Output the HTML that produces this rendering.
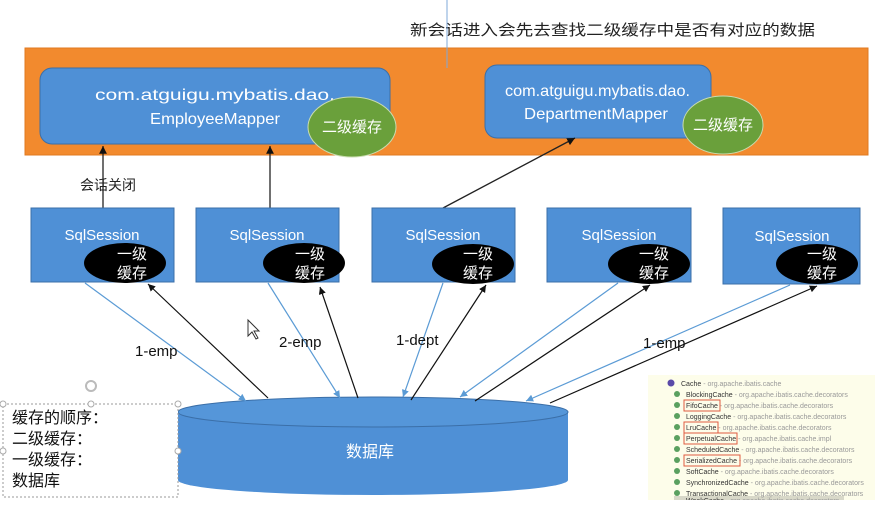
<!DOCTYPE html>
<html><head><meta charset="utf-8"><style>
body{margin:0;width:875px;height:500px;overflow:hidden;background:#fff;font-family:"Liberation Sans","Noto Sans CJK SC",sans-serif;}
</style></head><body>
<svg width="875" height="500" viewBox="0 0 875 500" xmlns="http://www.w3.org/2000/svg" font-family="Liberation Sans, Noto Sans CJK SC, sans-serif">
<defs>
<marker id="ab" markerWidth="8" markerHeight="8" refX="6" refY="3" orient="auto"><path d="M0,0 L6,3 L0,6 z" fill="#111"/></marker>
<marker id="au" markerWidth="8" markerHeight="8" refX="6" refY="3" orient="auto"><path d="M0,0 L6,3 L0,6 z" fill="#5b9bd5"/></marker>
</defs>
<text x="410" y="35" font-size="15" fill="#222" textLength="405" lengthAdjust="spacingAndGlyphs">新会话进入会先去查找二级缓存中是否有对应的数据</text>
<rect x="25" y="48" width="843" height="107" fill="#f28a2e" stroke="#e07a20"/>
<line x1="447" y1="0" x2="447" y2="68" stroke="#7fa8d8" stroke-width="1"/>
<rect x="40" y="68" width="350" height="76" rx="12" fill="#4f90d6" stroke="#3b6fa8"/>
<text x="95" y="100" font-size="16" fill="#fff" textLength="240" lengthAdjust="spacingAndGlyphs">com.atguigu.mybatis.dao.</text>
<text x="150" y="124" font-size="16" fill="#fff" textLength="130" lengthAdjust="spacingAndGlyphs">EmployeeMapper</text>
<ellipse cx="352" cy="127" rx="44" ry="30" fill="#6aa03b" stroke="#c9dcb0"/>
<text x="352" y="132" font-size="15" fill="#fff" text-anchor="middle">二级缓存</text>
<rect x="485" y="65" width="226" height="73" rx="12" fill="#4f90d6" stroke="#3b6fa8"/>
<text x="505" y="96" font-size="16" fill="#fff" textLength="185" lengthAdjust="spacingAndGlyphs">com.atguigu.mybatis.dao.</text>
<text x="524" y="119" font-size="16" fill="#fff" textLength="144" lengthAdjust="spacingAndGlyphs">DepartmentMapper</text>
<ellipse cx="723" cy="125" rx="40" ry="29" fill="#6aa03b" stroke="#c9dcb0"/>
<text x="723" y="130" font-size="15" fill="#fff" text-anchor="middle">二级缓存</text>
<text x="80" y="190" font-size="14" fill="#222">会话关闭</text>
<line x1="103" y1="208" x2="103" y2="146" stroke="#222" stroke-width="1.3" marker-end="url(#ab)"/>
<line x1="270" y1="208" x2="270" y2="146" stroke="#222" stroke-width="1.3" marker-end="url(#ab)"/>
<line x1="443" y1="208" x2="575" y2="138" stroke="#222" stroke-width="1.3" marker-end="url(#ab)"/>
<g font-size="15" fill="#fff">
<rect x="31" y="208" width="143" height="74" fill="#4f90d6" stroke="#3b6fa8"/>
<rect x="196" y="208" width="143" height="74" fill="#4f90d6" stroke="#3b6fa8"/>
<rect x="372" y="208" width="143" height="74" fill="#4f90d6" stroke="#3b6fa8"/>
<rect x="547" y="208" width="144" height="74" fill="#4f90d6" stroke="#3b6fa8"/>
<rect x="723" y="208" width="137" height="76" fill="#4f90d6" stroke="#3b6fa8"/>
<text x="102" y="240" text-anchor="middle">SqlSession</text>
<text x="267" y="240" text-anchor="middle">SqlSession</text>
<text x="443" y="240" text-anchor="middle">SqlSession</text>
<text x="619" y="240" text-anchor="middle">SqlSession</text>
<text x="792" y="241" text-anchor="middle">SqlSession</text>
</g>
<g fill="#000">
<ellipse cx="125" cy="263" rx="41" ry="20"/>
<ellipse cx="304" cy="263" rx="41" ry="20"/>
<ellipse cx="473" cy="264" rx="41" ry="20"/>
<ellipse cx="649" cy="264" rx="41" ry="20"/>
<ellipse cx="817" cy="264" rx="41" ry="20"/>
</g>
<g font-size="15" fill="#fff" text-anchor="middle">
<text x="132" y="259">一级</text><text x="132" y="278">缓存</text>
<text x="310" y="259">一级</text><text x="310" y="278">缓存</text>
<text x="478" y="259">一级</text><text x="478" y="278">缓存</text>
<text x="654" y="259">一级</text><text x="654" y="278">缓存</text>
<text x="822" y="259">一级</text><text x="822" y="278">缓存</text>
</g>
<path d="M178,412 L178,480 A195,15 0 0 0 568,480 L568,412 Z" fill="#4f90d6"/>
<ellipse cx="373" cy="412" rx="195" ry="15" fill="#5596d9" stroke="#3b6fa8"/>
<text x="370" y="457" font-size="16" fill="#fff" text-anchor="middle">数据库</text>
<g stroke-width="1.2">
<line x1="85" y1="283" x2="246" y2="401" stroke="#5b9bd5" marker-end="url(#au)"/>
<line x1="268" y1="398" x2="148" y2="284" stroke="#111" marker-end="url(#ab)"/>
<line x1="268" y1="283" x2="340" y2="398" stroke="#5b9bd5" marker-end="url(#au)"/>
<line x1="358" y1="398" x2="320" y2="287" stroke="#111" marker-end="url(#ab)"/>
<line x1="443" y1="283" x2="403" y2="397" stroke="#5b9bd5" marker-end="url(#au)"/>
<line x1="411" y1="400" x2="486" y2="285" stroke="#111" marker-end="url(#ab)"/>
<line x1="618" y1="283" x2="460" y2="397" stroke="#5b9bd5" marker-end="url(#au)"/>
<line x1="475" y1="401" x2="650" y2="285" stroke="#111" marker-end="url(#ab)"/>
<line x1="790" y1="285" x2="526" y2="401" stroke="#5b9bd5" marker-end="url(#au)"/>
<line x1="550" y1="403" x2="817" y2="286" stroke="#111" marker-end="url(#ab)"/>
</g>
<g font-size="15" fill="#111">
<text x="135" y="356">1-emp</text>
<text x="279" y="347">2-emp</text>
<text x="396" y="345">1-dept</text>
<text x="643" y="348">1-emp</text>
</g>
<path d="M248,320 L248,336 L252,332 L256,339 L258,338 L254,331 L259,331 Z" fill="#fff" stroke="#333"/>
<rect x="3" y="404" width="175" height="93" fill="#fff" stroke="#999" stroke-dasharray="2,2"/>
<g fill="#fff" stroke="#aaa"><circle cx="3" cy="404" r="3"/><circle cx="91" cy="404" r="3"/><circle cx="178" cy="404" r="3"/><circle cx="3" cy="451" r="3"/><circle cx="178" cy="451" r="3"/></g>
<circle cx="91" cy="386" r="5" fill="none" stroke="#bbb" stroke-width="2"/>
<g font-size="16" fill="#111">
<text x="12" y="423">缓存的顺序：</text>
<text x="12" y="444">二级缓存：</text>
<text x="12" y="465">一级缓存：</text>
<text x="12" y="486">数据库</text>
</g>
<rect x="648" y="375" width="227" height="125" fill="#fdfdea"/>
<rect x="674" y="496" width="170" height="4" fill="#d8d8c8"/>
<g font-size="7" fill="#555">
<circle cx="671" cy="383" r="3.5" fill="#5a4aa8"/><text x="681" y="386" fill="#333">Cache <tspan fill="#999">- org.apache.ibatis.cache</tspan></text>
<g fill="#5aa060"><circle cx="677" cy="394" r="3"/><circle cx="677" cy="405" r="3"/><circle cx="677" cy="416" r="3"/><circle cx="677" cy="427" r="3"/><circle cx="677" cy="438" r="3"/><circle cx="677" cy="449" r="3"/><circle cx="677" cy="460" r="3"/><circle cx="677" cy="471" r="3"/><circle cx="677" cy="482" r="3"/><circle cx="677" cy="493" r="3"/></g>
<text x="686" y="397" fill="#333">BlockingCache <tspan fill="#999">- org.apache.ibatis.cache.decorators</tspan></text>
<text x="686" y="408" fill="#333">FifoCache <tspan fill="#999">- org.apache.ibatis.cache.decorators</tspan></text>
<text x="686" y="419" fill="#333">LoggingCache <tspan fill="#999">- org.apache.ibatis.cache.decorators</tspan></text>
<text x="686" y="430" fill="#333">LruCache <tspan fill="#999">- org.apache.ibatis.cache.decorators</tspan></text>
<text x="686" y="441" fill="#333">PerpetualCache <tspan fill="#999">- org.apache.ibatis.cache.impl</tspan></text>
<text x="686" y="452" fill="#333">ScheduledCache <tspan fill="#999">- org.apache.ibatis.cache.decorators</tspan></text>
<text x="686" y="463" fill="#333">SerializedCache <tspan fill="#999">- org.apache.ibatis.cache.decorators</tspan></text>
<text x="686" y="474" fill="#333">SoftCache <tspan fill="#999">- org.apache.ibatis.cache.decorators</tspan></text>
<text x="686" y="485" fill="#333">SynchronizedCache <tspan fill="#999">- org.apache.ibatis.cache.decorators</tspan></text>
<text x="686" y="496" fill="#333">TransactionalCache <tspan fill="#999">- org.apache.ibatis.cache.decorators</tspan></text>
<text x="686" y="503" fill="#333">WeakCache <tspan fill="#999">- org.apache.ibatis.cache.decorators</tspan></text>
</g>
<g fill="none" stroke="#e05a40" stroke-width="1">
<rect x="684" y="400" width="36" height="11"/>
<rect x="684" y="422" width="34" height="11"/>
<rect x="684" y="433" width="53" height="11"/>
<rect x="684" y="455" width="56" height="11"/>
</g>
</svg>
</body></html>
